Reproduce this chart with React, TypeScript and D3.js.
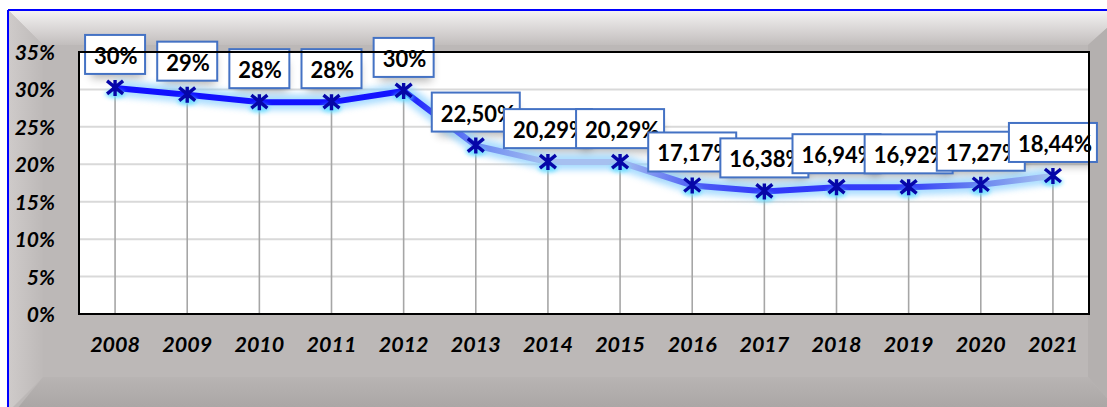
import React from "react";
import * as d3 from "d3";

const years = ["2008","2009","2010","2011","2012","2013","2014","2015","2016","2017","2018","2019","2020","2021"];
const values = [30.2, 29.3, 28.3, 28.3, 29.8, 22.5, 20.29, 20.29, 17.17, 16.38, 16.94, 16.92, 17.27, 18.44];
const labels = ["30%","29%","28%","28%","30%","22,50%","20,29%","20,29%","17,17%","16,38%","16,94%","16,92%","17,27%","18,44%"];
const yTicks = [0, 5, 10, 15, 20, 25, 30, 35];

const W = 1107, H = 407;
const PL = 79, PR = 1089, PT = 52, PB = 314;

export default function App() {
  const x = d3.scaleBand<string>().domain(years).range([PL, PR]).paddingInner(0).paddingOuter(0);
  const y = d3.scaleLinear().domain([0, 35]).range([PB, PT]);
  const cx = (yr: string) => (x(yr) as number) + x.bandwidth() / 2;
  const pts: [number, number][] = years.map((yr, i) => [cx(yr), y(values[i])]);
  const line = d3.line<[number, number]>().x(d => d[0]).y(d => d[1]).curve(d3.curveLinear);
  const path = line(pts) || "";
  const x0 = pts[0][0], x1 = pts[pts.length - 1][0];
  const off = (i: number) => (pts[i][0] - x0) / (x1 - x0);
  const font = "Lato, 'Open Sans', sans-serif";

  return (
    <svg width={W} height={H} style={{ position: "fixed", left: 0, top: 0, display: "block" }}>
      <defs>
        <linearGradient id="topBev" x1="0" y1="0" x2="0" y2="1">
          <stop offset="0" stopColor="#f5f3f3" />
          <stop offset="1" stopColor="#c2bebd" />
        </linearGradient>
        <linearGradient id="leftBev" x1="0" y1="0" x2="1" y2="0">
          <stop offset="0" stopColor="#cfcbca" />
          <stop offset="1" stopColor="#bdb9b8" />
        </linearGradient>
        <linearGradient id="botBev" x1="0" y1="0" x2="0" y2="1">
          <stop offset="0" stopColor="#b8b4b3" />
          <stop offset="1" stopColor="#a5a1a0" />
        </linearGradient>
        <linearGradient id="lineGrad" gradientUnits="userSpaceOnUse" x1={x0} y1={0} x2={x1} y2={0}>
          <stop offset="0" stopColor="#1010ff" />
          <stop offset={off(4)} stopColor="#1414ff" />
          <stop offset={off(5)} stopColor="#6a88f2" />
          <stop offset={off(6)} stopColor="#a6c0f0" />
          <stop offset={off(7)} stopColor="#a6c0f0" />
          <stop offset={off(8)} stopColor="#5060f4" />
          <stop offset={off(9)} stopColor="#3038fa" />
          <stop offset={off(11)} stopColor="#3440f8" />
          <stop offset={off(12)} stopColor="#6a86f0" />
          <stop offset="1" stopColor="#a8c2f0" />
        </linearGradient>
        <filter id="glow" x="-10%" y="-50%" width="120%" height="200%">
          <feGaussianBlur stdDeviation="3" />
        </filter>
        <filter id="shadow" x="-30%" y="-50%" width="160%" height="200%">
          <feGaussianBlur stdDeviation="5" />
        </filter>
        <filter id="mglow" x="-100%" y="-100%" width="300%" height="300%">
          <feGaussianBlur stdDeviation="2" />
        </filter>
        <clipPath id="plotClip">
          <rect x={PL} y={PT} width={PR - PL} height={PB - PT} />
        </clipPath>
      </defs>

      {/* frame */}
      <rect x={8} y={10} width={W} height={H} fill="#bcb8b7" />
      <polygon points={`8,10 ${W + 20},10 1088,45 43,45`} fill="url(#topBev)" />
      <polygon points={`8,10 43,45 43,377 8,412`} fill="url(#leftBev)" />
      <polygon points={`1088,45 ${W + 20},10 ${W + 20},420 1088,377`} fill="#b4b0af" />
      <polygon points={`43,377 1088,377 ${W + 20},420 8,420`} fill="url(#botBev)" />
      <line x1={8} y1={10} x2={W + 5} y2={10} stroke="#0000ff" strokeWidth={2} />
      <line x1={8} y1={10} x2={8} y2={H + 5} stroke="#0000ff" strokeWidth={2} />

      {/* plot area */}
      <rect x={PL} y={PT} width={PR - PL} height={PB - PT} fill="#ffffff" />
      {yTicks.slice(1).map(t => (
        <line key={t} x1={PL} x2={PR} y1={y(t)} y2={y(t)} stroke="#d9d9d9" strokeWidth={2} />
      ))}
      {pts.map((p, i) => (
        <line key={i} x1={p[0]} x2={p[0]} y1={p[1]} y2={PB} stroke="#a6a6a6" strokeWidth={1.6} />
      ))}

      {/* label shadows */}
      <g clipPath="url(#plotClip)">
        {pts.map((p, i) => {
          const w = labels[i].length <= 3 ? 60 : 88;
          return (
            <rect key={i} x={p[0] - w / 2 + 6} y={p[1] - 40} width={w - 8} height={30}
              fill="#000" opacity={0.3} filter="url(#shadow)" />
          );
        })}
      </g>

      {/* line glow + line */}
      <path d={path} fill="none" stroke="#8fd2ff" strokeWidth={16} strokeLinejoin="round" opacity={0.75} filter="url(#glow)" />
      <path d={path} fill="none" stroke="url(#lineGrad)" strokeWidth={6} strokeLinejoin="round" strokeLinecap="round" />

      {/* markers */}
      {pts.map((p, i) => (
        <g key={i} transform={`translate(${p[0]},${p[1]})`}>
          <ellipse cx={0} cy={6} rx={10} ry={4} fill="#5cdcff" opacity={0.85} filter="url(#mglow)" />
          <path d="M-8,-7L8,6M-8,6L8,-7M0,-8L0,8" stroke="#0606a8" strokeWidth={3.4} strokeLinecap="butt" />
        </g>
      ))}

      {/* data labels */}
      {pts.map((p, i) => {
        const w = labels[i].length <= 3 ? 60 : 88;
        const bx = p[0] - w / 2;
        const by = p[1] - 14 - 39;
        return (
          <g key={i}>
            <rect x={bx} y={by} width={w} height={39} fill="#ffffff" stroke="#4472c4" strokeWidth={2} />
            <text x={bx + 9} y={by + 29} fontFamily={font} fontWeight="bold" fontSize={22} fill="#000">
              {labels[i]}
            </text>
          </g>
        );
      })}

      {/* plot border */}
      <rect x={PL} y={PT} width={PR - PL} height={PB - PT} fill="none" stroke="#000" strokeWidth={2} />

      {/* axes labels */}
      {yTicks.map(t => (
        <text key={t} x={55} y={y(t) + 8} textAnchor="end" fontFamily={font} fontWeight="bold"
          fontStyle="italic" fontSize={21} fill="#000">{t}%</text>
      ))}
      {years.map(yr => (
        <text key={yr} x={cx(yr)} y={352} textAnchor="middle" fontFamily={font} fontWeight="bold"
          fontStyle="italic" fontSize={21.5} fill="#000">{yr}</text>
      ))}
    </svg>
  );
}
